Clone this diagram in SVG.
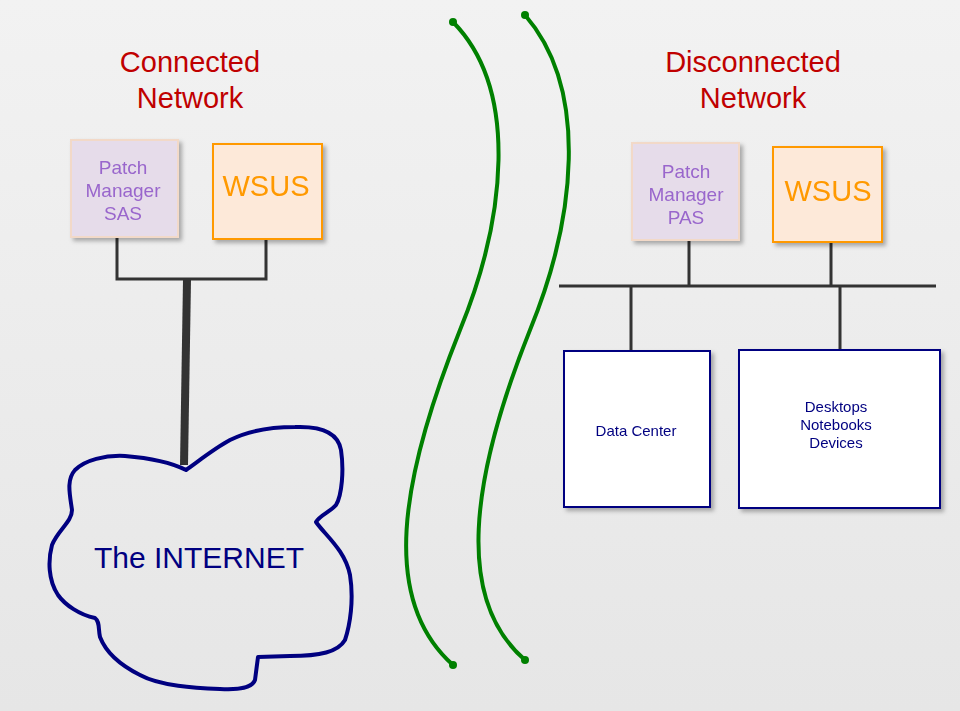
<svg xmlns="http://www.w3.org/2000/svg" width="960" height="711" viewBox="0 0 960 711">
<defs>
<linearGradient id="bg" x1="0" y1="0" x2="0" y2="1"><stop offset="0" stop-color="#f2f2f2"/><stop offset="1" stop-color="#e6e6e6"/></linearGradient>
<filter id="sh" x="-10%" y="-10%" width="130%" height="130%"><feDropShadow dx="3" dy="3" stdDeviation="2" flood-color="#000" flood-opacity="0.3"/></filter>
</defs>
<style>
.t{font-family:"Liberation Sans",Arial,sans-serif}
.title{fill:#c00000;font-size:29px}
.pm{fill:#e6dcea;stroke:#f2d9c8;stroke-width:2}
.pmt{fill:#9966cc;font-size:19px}
.ws{fill:#fde9d9;stroke:#ff9900;stroke-width:2}
.wst{fill:#ff9900;font-size:29px}
.ln{stroke:#333;stroke-width:3;fill:none}
.dc{fill:#fff;stroke:#000080;stroke-width:2}
.dct{fill:#000080;font-size:15px}
.g{stroke:#008000;stroke-width:4;fill:none}
</style>
<rect width="960" height="711" fill="url(#bg)"/>
<g id="connected-title"><text class="t title" x="190" y="72" text-anchor="middle">Connected</text><text class="t title" x="190" y="108" text-anchor="middle">Network</text></g>
<g id="disconnected-title"><text class="t title" x="753" y="72" text-anchor="middle">Disconnected</text><text class="t title" x="753" y="108" text-anchor="middle">Network</text></g>
<g id="connectors">
<path class="ln" d="M117 238V279H266V240"/>
<path d="M187 280L184 465" stroke="#333" stroke-width="8" fill="none"/>
<path class="ln" d="M559 286H936M689 241V286M831 243V286M631 286V350M840 286V350"/>
<path class="g" d="M453 22C520 90 505 220 460 330C400 480 380 600 453 665"/>
<path class="g" d="M525 15C590 90 575 220 530 330C470 480 455 600 525 660"/>
<circle cx="453" cy="22" r="4" fill="#008000"/><circle cx="525" cy="15" r="4" fill="#008000"/>
<circle cx="453" cy="665" r="4" fill="#008000"/><circle cx="525" cy="660" r="4" fill="#008000"/>
</g>
<g id="pm-sas" filter="url(#sh)"><rect class="pm" x="71" y="140" width="107" height="97"/><text class="t pmt" text-anchor="middle"><tspan x="123" y="174">Patch</tspan><tspan x="123" y="197">Manager</tspan><tspan x="123" y="220">SAS</tspan></text></g>
<g id="wsus1" filter="url(#sh)"><rect class="ws" x="213" y="144" width="109" height="95"/><text class="t wst" x="266" y="196" text-anchor="middle">WSUS</text></g>
<g id="pm-pas" filter="url(#sh)"><rect class="pm" x="632" y="143" width="107" height="97"/><text class="t pmt" text-anchor="middle"><tspan x="686" y="178">Patch</tspan><tspan x="686" y="201">Manager</tspan><tspan x="686" y="224">PAS</tspan></text></g>
<g id="wsus2" filter="url(#sh)"><rect class="ws" x="773" y="147" width="109" height="95"/><text class="t wst" x="828" y="201" text-anchor="middle">WSUS</text></g>
<g id="datacenter" filter="url(#sh)"><rect class="dc" x="564" y="351" width="146" height="156"/><text class="t dct" x="636" y="436" text-anchor="middle">Data Center</text></g>
<g id="desktops" filter="url(#sh)"><rect class="dc" x="739" y="350" width="201" height="158"/><text class="t dct" text-anchor="middle"><tspan x="836" y="412">Desktops</tspan><tspan x="836" y="430">Notebooks</tspan><tspan x="836" y="448">Devices</tspan></text></g>
<g id="internet">
<path d="M186 470C200 460 215 448 230 440C250 430 270 427 295 427C320 426 338 432 341 450C344 470 342 495 336 505C330 512 320 515 316 522C325 535 345 550 350 575C354 600 350 625 345 640C338 652 320 656 290 656L258 657L255 680C252 688 240 690 220 689C195 688 160 686 140 675C118 664 105 650 100 637C98 628 100 622 95 618C80 615 65 605 58 595C48 580 48 560 52 545C58 530 72 522 72 510C70 495 66 480 75 470C85 460 105 455 125 456C150 458 170 462 186 470Z" fill="none" stroke="#000080" stroke-width="4" stroke-linejoin="round"/>
<text class="t" x="199" y="568" text-anchor="middle" fill="#000080" font-size="30">The INTERNET</text>
</g>
</svg>
